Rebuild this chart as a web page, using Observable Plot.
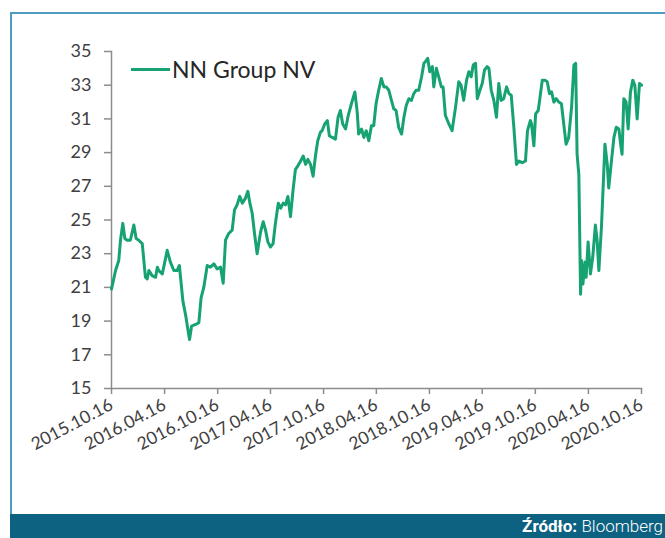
<!DOCTYPE html>
<html>
<head>
<meta charset="utf-8">
<script src="https://cdn.jsdelivr.net/npm/d3@7"></script>
<script src="https://cdn.jsdelivr.net/npm/@observablehq/plot@0.6"></script>
<style>
  html, body { margin: 0; padding: 0; background: #fff; }
  #wrap { position: relative; width: 665px; height: 538px; overflow: hidden; font-family: Lato, "Open Sans", sans-serif; }
  #frame { position: absolute; left: 10px; top: 12px; width: 700px; height: 520px; border-top: 2px solid #4f9cc0; border-left: 2px solid #4f9cc0; box-sizing: border-box; }
  #chart { position: absolute; left: 0; top: 0; }
  #legend { position: absolute; left: 131px; top: 55px; display: flex; align-items: center; font-size: 23px; color: #262626; }
  #legend .sw { width: 39px; height: 3px; background: #17a271; margin-right: 2px; }
  #footer { position: absolute; left: 10px; top: 514px; width: 655px; height: 24px; background: #0d6282; color: #fff; font-family: Roboto, sans-serif; font-size: 17px; line-height: 24px; text-align: right; padding-right: 2px; box-sizing: border-box; }
  #footer b { font-weight: 700; }
  #footer span { font-weight: 300; }
</style>
</head>
<body>
<div id="wrap">
  <div id="frame"></div>
  <div id="chart"></div>
  <div id="legend"><span class="sw"></span><span>NN Group NV</span></div>
  <div id="footer"><b>Źródło:</b> <span>Bloomberg</span></div>
</div>
<script>
// Series name
const seriesName = "NN Group NV";
// Observation dates, as days since 2015-10-16
const startDate = "2015-10-16";
const days = [0,14,25,31,39,46,54,65,77,85,94,106,117,123,129,140,152,158,163,175,180,192,203,215,226,234,246,255,269,276,290,301,309,318,330,341,353,364,376,385,393,404,416,424,433,442,451,462,470,477,485,493,502,514,523,531,539,548,557,565,575,583,592,600,608,617,626,634,642,652,661,669,677,686,695,703,711,720,726,735,744,751,761,772,781,789,797,807,816,827,839,847,852,862,870,878,887,896,904,912,921,930,939,947,956,965,973,981,990,1000,1008,1016,1025,1034,1042,1050,1059,1069,1077,1082,1090,1097,1106,1111,1120,1128,1137,1143,1151,1163,1174,1186,1197,1205,1214,1224,1232,1240,1247,1255,1261,1270,1278,1286,1295,1301,1309,1318,1327,1335,1343,1352,1362,1370,1378,1387,1396,1404,1416,1427,1434,1444,1448,1456,1462,1471,1475,1485,1494,1502,1510,1517,1525,1533,1542,1551,1559,1567,1576,1586,1594,1600,1605,1611,1617,1620,1625,1632,1636,1643,1651,1659,1668,1674,1680,1689,1701,1709,1714,1724,1732,1740,1749,1755,1760,1766,1774,1781,1789,1797,1804,1812,1820,1827];
// Share price (EUR)
const prices = [20.9,22.0,22.6,23.8,24.8,23.9,23.8,23.8,24.7,23.9,23.8,23.6,21.6,21.5,22.0,21.7,21.6,22.2,22.0,21.8,22.2,23.2,22.5,22.0,22.0,22.3,20.2,19.4,17.9,18.7,18.8,18.9,20.4,21.0,22.3,22.2,22.4,22.1,22.2,21.25,23.8,24.2,24.4,25.6,25.9,26.4,26.0,26.3,26.7,26.0,25.4,24.2,23.0,24.3,24.9,24.4,23.7,23.4,23.6,24.8,26.0,25.7,26.0,25.9,26.4,25.2,26.8,28.0,28.2,28.5,28.8,28.3,28.6,28.3,27.6,28.8,29.7,30.2,30.3,30.7,30.9,30.0,29.9,29.8,31.1,31.5,30.7,30.4,31.2,31.9,32.6,31.4,30.1,30.4,29.9,30.3,29.7,30.6,30.6,31.9,32.7,33.4,32.9,32.9,32.7,32.1,31.6,31.5,30.5,30.1,31.1,31.8,32.2,32.1,32.5,32.7,32.7,33.5,34.3,34.4,34.6,33.8,34.1,32.9,34.0,33.5,32.9,32.9,31.2,30.7,30.3,31.7,33.2,33.0,32.1,33.3,33.8,33.5,34.2,34.3,32.2,32.7,33.1,33.9,34.1,34.0,32.7,32.1,31.1,33.1,32.1,32.2,32.9,32.5,32.4,30.5,28.3,28.5,28.4,28.5,30.3,30.9,30.7,29.4,31.3,31.5,32.0,33.3,33.3,33.2,32.5,32.6,32.0,32.2,32.0,31.9,30.7,29.5,29.9,31.7,34.2,34.3,28.9,27.7,20.6,22.6,21.2,22.5,21.6,23.7,21.8,22.8,24.7,23.8,22.0,24.6,29.5,28.3,26.9,28.6,29.9,30.5,30.4,29.5,28.9,32.2,32.0,30.4,32.6,33.3,33.0,31.0,33.1,33.0];
// X tick labels
const xTickLabels = ["2015.10.16","2016.04.16","2016.10.16","2017.04.16","2017.10.16","2018.04.16","2018.10.16","2019.04.16","2019.10.16","2020.04.16","2020.10.16"];
// Y ticks
const yTicks = [15,17,19,21,23,25,27,29,31,33,35];

const parse = d3.utcParse("%Y.%m.%d");
const start = d3.utcParse("%Y-%m-%d")(startDate);
const data = days.map((d, i) => ({date: d3.utcDay.offset(start, d), value: prices[i]}));
const xTicks = xTickLabels.map(parse);

const chart = Plot.plot({
  width: 665,
  height: 514,
  marginLeft: 111,
  marginRight: 24,
  marginTop: 51,
  marginBottom: 126,
  style: {fontFamily: "Lato, 'Open Sans', sans-serif", background: "transparent", color: "#404040", overflow: "visible"},
  x: {type: "utc", domain: [xTicks[0], xTicks[xTicks.length - 1]]},
  y: {domain: [15, 35]},
  marks: [
    Plot.frame({anchor: "left", stroke: "#8c8c8c", strokeWidth: 1.5, strokeOpacity: 1}),
    Plot.frame({anchor: "bottom", stroke: "#8c8c8c", strokeWidth: 1.5, strokeOpacity: 1}),
    Plot.axisY({ticks: yTicks, tickSize: 7, tickPadding: 13, stroke: "#8c8c8c", strokeWidth: 1.5, fontSize: 18, fill: "#404040", label: null, tickFormat: d => String(d)}),
    Plot.axisX({ticks: xTicks, tickSize: 6, tickPadding: 9, tickRotate: -28, stroke: "#8c8c8c", strokeWidth: 1.5, fontSize: 17.5, fill: "#404040", label: null, tickFormat: d3.utcFormat("%Y.%m.%d")}),
    Plot.line(data, {x: "date", y: "value", stroke: "#17a271", strokeWidth: 3, strokeLinejoin: "round"})
  ]
});
document.getElementById("chart").appendChild(chart);
</script>
</body>
</html>
